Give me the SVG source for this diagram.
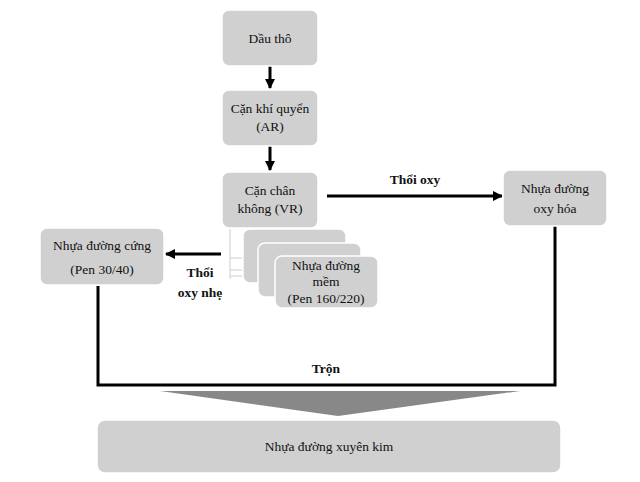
<svg xmlns="http://www.w3.org/2000/svg" width="640" height="482" viewBox="0 0 640 482">
<style>
.n{fill:#d0d0d0;stroke:#fff;stroke-width:1.5}
.t{font-family:"Liberation Serif",serif;font-size:13.5px;fill:#111;text-anchor:middle}
.b{font-weight:bold}
.c{stroke:#000;stroke-width:3;fill:none}
</style>
<defs><marker id="a" viewBox="0 0 10 10" refX="9" refY="5" markerWidth="3.5" markerHeight="3.5" orient="auto"><path d="M0,0L10,5L0,10z" fill="#000"/></marker></defs>
<rect width="640" height="482" fill="#fff"/>
<g id="connectors">
<line class="c" x1="270" y1="66" x2="270" y2="88" marker-end="url(#a)"/>
<line class="c" x1="270" y1="146" x2="270" y2="170" marker-end="url(#a)"/>
<line class="c" x1="327" y1="196" x2="502" y2="196" marker-end="url(#a)"/>
<line class="c" x1="221" y1="254" x2="166" y2="254" marker-end="url(#a)"/>
<polyline class="c" points="98,286 98,385 555,385 555,226"/>
<path d="M230,229V279M230,258H243M230,270H258M230,276H258" stroke="#ccc" fill="none"/>
<polygon points="160,391 520,391 338,416" fill="#888"/>
<text class="t b" x="415" y="184">Thổi oxy</text>
<text class="t b" x="200" y="277">Thổi</text>
<text class="t b" x="200" y="297">oxy nhẹ</text>
<text class="t b" x="326" y="373">Trộn</text>
</g>
<g id="n1"><rect class="n" x="222" y="10" width="96" height="56" rx="7"/><text class="t" x="270" y="43">Dầu thô</text></g>
<g id="n2"><rect class="n" x="222" y="90" width="96" height="56" rx="7"/><text class="t" x="270" y="113">Cặn khí quyển</text><text class="t" x="270" y="131">(AR)</text></g>
<g id="n3"><rect class="n" x="222" y="172" width="96" height="56" rx="7"/><text class="t" x="270" y="195">Cặn chân</text><text class="t" x="270" y="213">không (VR)</text></g>
<g id="n4"><rect class="n" x="503" y="170" width="104" height="56" rx="7"/><text class="t" x="555" y="193">Nhựa đường</text><text class="t" x="555" y="213">oxy hóa</text></g>
<g id="n5"><rect class="n" x="40" y="228" width="124" height="57" rx="7"/><text class="t" x="102" y="250">Nhựa đường cứng</text><text class="t" x="102" y="274">(Pen 30/40)</text></g>
<g id="n6"><rect class="n" x="243" y="229" width="103" height="54" rx="7"/><rect class="n" x="258" y="243" width="103" height="54" rx="7"/><rect class="n" x="275" y="256" width="103" height="52" rx="7"/><text class="t" x="326" y="270">Nhựa đường</text><text class="t" x="326" y="286">mềm</text><text class="t" x="326" y="303">(Pen 160/220)</text></g>
<g id="n7"><rect class="n" x="97" y="420" width="464" height="53" rx="8"/><text class="t" x="329" y="451">Nhựa đường xuyên kim</text></g>
</svg>
